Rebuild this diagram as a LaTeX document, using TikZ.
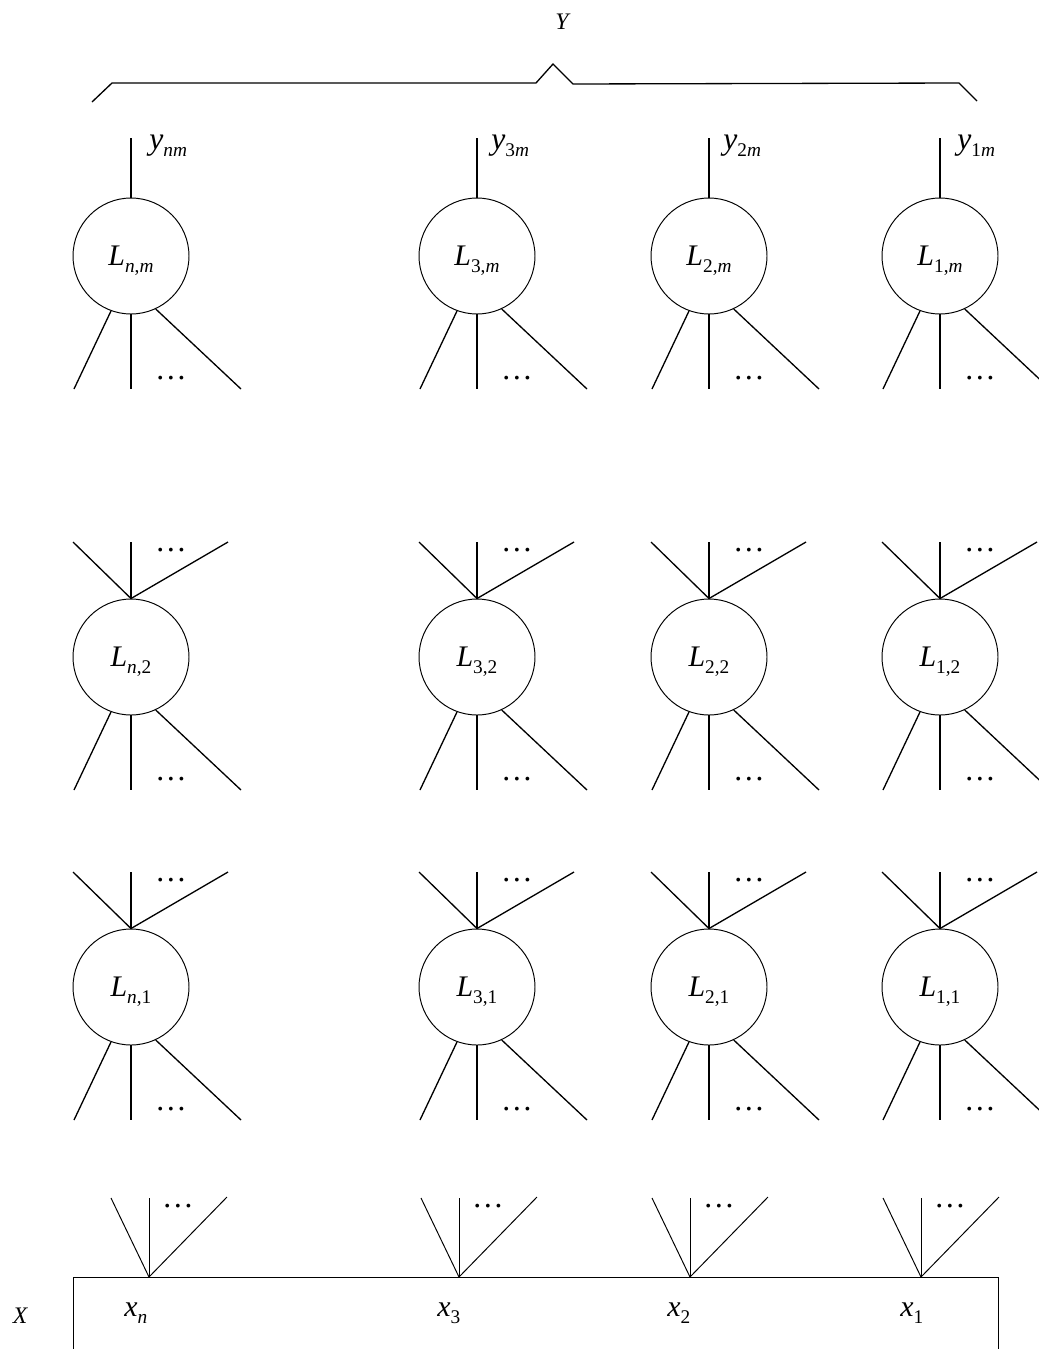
\documentclass[tikz,border=0pt]{standalone}
\usepackage{fontspec}
\setmainfont{Liberation Serif}
\usetikzlibrary{calc}
\newcommand{\subsz}{\fontsize{11}{12}\selectfont}
\newcommand{\lsub}[2]{\textit{#1}\raisebox{-4pt}{\subsz #2}}

\begin{document}
\begin{tikzpicture}[
    x=0.02cm, y=-0.02cm,
    unit/.style={circle, draw, line width=0.55pt, minimum size=2.32cm, inner sep=0pt,
      text depth=0pt, font=\fontsize{17}{18}\selectfont},
    link/.style={line width=0.75pt},
    fan/.style={line width=0.55pt},
    dots/.style={font=\fontsize{18}{19}\selectfont, inner sep=0pt},
    outlbl/.style={anchor=base west, inner sep=0pt, font=\fontsize{18}{19}\selectfont},
    inlbl/.style={anchor=base west, inner sep=0pt, font=\fontsize{17}{18}\selectfont},
    setlbl/.style={font=\fontsize{13.5}{14}\selectfont\itshape, inner sep=0pt},
  ]
  \useasboundingbox (0,0) rectangle (1038,1349);

  % Output set Y
  \node[setlbl] (ylab) at (562,22) {Y};
  \draw[link] (92,102) -- (112,83) -- (536,83) -- (553,64) -- (573,84) -- (959,83) -- (977,101);

  % Layer m
  \node[unit] (Lnm) at (131,256) {\lsub{L}{\textit{n},\textit{m}}};
  \node[unit] (L3m) at (477,256) {\lsub{L}{3,\textit{m}}};
  \node[unit] (L2m) at (709,256) {\lsub{L}{2,\textit{m}}};
  \node[unit] (L1m) at (940,256) {\lsub{L}{1,\textit{m}}};

  % Layer 2
  \node[unit] (Ln2) at (131,657) {\lsub{L}{\textit{n},2}};
  \node[unit] (L32) at (477,657) {\lsub{L}{3,2}};
  \node[unit] (L22) at (709,657) {\lsub{L}{2,2}};
  \node[unit] (L12) at (940,657) {\lsub{L}{1,2}};

  % Layer 1
  \node[unit] (Ln1) at (131,987) {\lsub{L}{\textit{n},1}};
  \node[unit] (L31) at (477,987) {\lsub{L}{3,1}};
  \node[unit] (L21) at (709,987) {\lsub{L}{2,1}};
  \node[unit] (L11) at (940,987) {\lsub{L}{1,1}};

  % Outputs
  \coordinate (ynm) at ($(Lnm)+(0,-118)$);
  \coordinate (y3m) at ($(L3m)+(0,-118)$);
  \coordinate (y2m) at ($(L2m)+(0,-118)$);
  \coordinate (y1m) at ($(L1m)+(0,-118)$);
  \draw[link] (Lnm) -- (ynm);
  \draw[link] (L3m) -- (y3m);
  \draw[link] (L2m) -- (y2m);
  \draw[link] (L1m) -- (y1m);
  \node[outlbl] (ynmlab) at ($(ynm)+(18,11)$) {\lsub{y}{\textit{nm}}};
  \node[outlbl] (y3mlab) at ($(y3m)+(14,11)$) {\lsub{y}{3\textit{m}}};
  \node[outlbl] (y2mlab) at ($(y2m)+(14,11)$) {\lsub{y}{2\textit{m}}};
  \node[outlbl] (y1mlab) at ($(y1m)+(17,11)$) {\lsub{y}{1\textit{m}}};

  % Links leaving each unit downwards
  \foreach \u in {Lnm,L3m,L2m,L1m,Ln2,L32,L22,L12,Ln1,L31,L21,L11}{
    \coordinate (\u-bl) at ($(\u)+(-57,133)$);
    \coordinate (\u-bm) at ($(\u)+(0,133)$);
    \coordinate (\u-br) at ($(\u)+(110,133)$);
    \draw[link] (\u.250) -- (\u-bl);
    \draw[link] (\u.south) -- (\u-bm);
    \draw[link] (\u.295) -- (\u-br);
    \node[dots] (\u-bd) at ($(\u)+(40,122)$) {…};
  }

  % Links entering layers 2 and 1 from above
  \foreach \u in {Ln2,L32,L22,L12,Ln1,L31,L21,L11}{
    \coordinate (\u-tl) at ($(\u)+(-58,-115)$);
    \coordinate (\u-tm) at ($(\u)+(0,-115)$);
    \coordinate (\u-tr) at ($(\u)+(97,-115)$);
    \draw[link] (\u.north) -- (\u-tl);
    \draw[link] (\u.north) -- (\u-tm);
    \draw[link] (\u.north) -- (\u-tr);
    \node[dots] (\u-td) at ($(\u)+(40,-107)$) {…};
  }

  % Input set X
  \node[draw, line width=0.75pt, anchor=north west, minimum width=18.5cm,
    minimum height=3cm, inner sep=0pt] (inp) at (73,1277) {};
  \node[setlbl] (xlab) at (20,1316) {X};
  \coordinate (xn) at (149,1277);
  \coordinate (x3) at (459,1277);
  \coordinate (x2) at (690,1277);
  \coordinate (x1) at (921,1277);
  \foreach \v in {xn,x3,x2,x1}{
    \coordinate (\v-l) at ($(\v)+(-38,-79)$);
    \coordinate (\v-m) at ($(\v)+(0,-79)$);
    \coordinate (\v-r) at ($(\v)+(78,-80)$);
    \draw[fan] (\v) -- (\v-l);
    \draw[fan] (\v) -- (\v-m);
    \draw[fan] (\v) -- (\v-r);
    \node[dots] (\v-d) at ($(\v)+(29,-71)$) {…};
  }
  \node[inlbl] (xnlab) at ($(xn)+(-25,39)$) {\lsub{x}{\textit{n}}};
  \node[inlbl] (x3lab) at ($(x3)+(-22,39)$) {\lsub{x}{3}};
  \node[inlbl] (x2lab) at ($(x2)+(-23,39)$) {\lsub{x}{2}};
  \node[inlbl] (x1lab) at ($(x1)+(-21,39)$) {\lsub{x}{1}};
\end{tikzpicture}
\end{document}
